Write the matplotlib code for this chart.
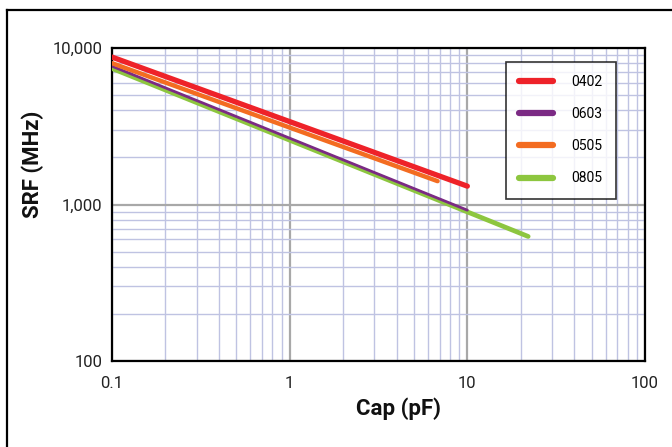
import matplotlib
matplotlib.use('Agg')
import matplotlib.pyplot as plt
from matplotlib.lines import Line2D
from matplotlib.ticker import LogLocator, FixedLocator, FixedFormatter, NullFormatter

plt.rcParams['font.family'] = ['Roboto', 'DejaVu Sans']

# ── DATA ──────────────────────────────────────────────────
series_names = ['0402', '0603', '0505', '0805']
cap_0402 = [0.1, 10]
srf_0402 = [8750, 1310]
cap_0603 = [0.1, 10]
srf_0603 = [7650, 920]
cap_0505 = [0.1, 6.8]
srf_0505 = [8000, 1410]
cap_0805 = [0.1, 22]
srf_0805 = [7400, 625]

x_ticks = [0.1, 1, 10, 100]
x_labels = ['0.1', '1', '10', '100']
y_ticks = [100, 1000, 10000]
y_labels = ['100', '1,000', '10,000']

colors = ['#ee2229', '#7b2a84', '#f36c21', '#8dc63f']
widths = [3.8, 2.0, 3.2, 3.4]

# ── FIGURE ────────────────────────────────────────────────
W, H = 672, 447
fig = plt.figure(figsize=(W/100, H/100), dpi=100, facecolor='white')
ax = fig.add_axes([112/W, 1 - 361/H, 533/W, 313/H])

data = [(cap_0402, srf_0402), (cap_0603, srf_0603),
        (cap_0505, srf_0505), (cap_0805, srf_0805)]
# draw order: green under purple, orange, red on top
order = [3, 1, 2, 0]
for i in order:
    xs, ys = data[i]
    ax.plot(xs, ys, color=colors[i], lw=widths[i], solid_capstyle='round',
            zorder=5 + order.index(i), label=series_names[i])

ax.set_xscale('log'); ax.set_yscale('log')
ax.set_xlim(0.1, 100); ax.set_ylim(100, 10000)
ax.xaxis.set_major_locator(FixedLocator(x_ticks))
ax.xaxis.set_major_formatter(FixedFormatter(x_labels))
ax.yaxis.set_major_locator(FixedLocator(y_ticks))
ax.yaxis.set_major_formatter(FixedFormatter(y_labels))
ax.xaxis.set_minor_locator(LogLocator(base=10, subs=range(2, 10)))
ax.yaxis.set_minor_locator(LogLocator(base=10, subs=range(2, 10)))
ax.xaxis.set_minor_formatter(NullFormatter())
ax.yaxis.set_minor_formatter(NullFormatter())
ax.tick_params(which='both', length=0, labelsize=12, colors='#222222')
ax.tick_params(axis='x', pad=11)
ax.tick_params(axis='y', pad=7)

ax.grid(which='minor', color='#bfc3e2', lw=1.0)
ax.grid(which='major', color='#a8a8a8', lw=1.6)
ax.set_axisbelow(True)
for s in ax.spines.values():
    s.set_color('black'); s.set_linewidth(1.6)

# axis titles placed by pixel position
fig.text(398/W, 1 - 409/H, 'Cap (pF)', fontsize=16, fontweight='bold',
         ha='center', va='center', color='#111111')
fig.text(33/W, 1 - 164/H, 'SRF (MHz)', fontsize=16, fontweight='bold',
         ha='center', va='center', rotation=90, color='#111111')

handles = [Line2D([], [], color=colors[i], lw=4.5, solid_capstyle='round')
           for i in range(4)]
leg = ax.legend(handles, series_names, loc='upper left',
                bbox_to_anchor=(394/533, 1 - 14/313), fontsize=10,
                frameon=True, fancybox=False, edgecolor='black',
                handlelength=2.4, handletextpad=1.35, labelspacing=1.3,
                borderpad=0.95, borderaxespad=0)
leg.get_frame().set_linewidth(1.2)
leg.set_zorder(20)

# outer border (left and top edges)
fig.add_artist(Line2D([6.5/W, 6.5/W], [0, 1 - 10/H], color='black', lw=1.6))
fig.add_artist(Line2D([6.5/W, 1], [1 - 10/H, 1 - 10/H], color='black', lw=1.6))

fig.savefig('out.png', dpi=100, facecolor='white')
